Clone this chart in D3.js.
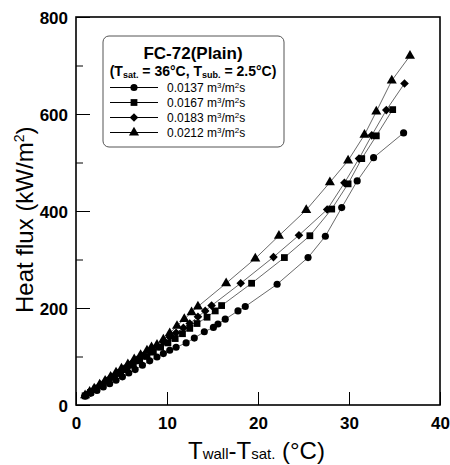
<!DOCTYPE html>
<html>
<head>
<meta charset="utf-8">
<script src="https://cdn.jsdelivr.net/npm/d3@7"></script>
<style>
  body { margin: 0; background: #fff; }
  svg { display: block; font-family: "Liberation Sans", Arial, sans-serif; }
</style>
</head>
<body>
<div id="chart"></div>
<script>
// series: wall superheat (x) and heat flux (y)
var labels = ["0.0137", "0.0167", "0.0183", "0.0212"];
var shapes = ["circle", "square", "diamond", "triangle"];

var x0137 = [1.0, 1.6, 2.3, 3.0, 3.7, 4.4, 5.1, 5.8, 6.5, 7.3, 8.1, 8.9, 9.6, 10.3, 11.0, 12.1, 13.0, 14.1, 15.1, 15.6, 16.4, 17.8, 18.6, 22.1, 25.5, 27.4, 29.2, 30.9, 32.7, 36.0];
var y0137 = [18, 24, 30, 37, 44, 51, 58, 66, 73, 82, 91, 99, 106, 113, 119, 128, 138, 151, 160, 167, 177, 194, 203, 249, 304, 348, 407, 462, 510, 561];

var x0167 = [1.0, 1.6, 2.2, 2.9, 3.5, 4.2, 4.9, 5.6, 6.3, 7.0, 7.8, 8.5, 9.3, 10.1, 10.9, 11.7, 12.5, 13.3, 14.4, 15.3, 16.0, 19.3, 22.9, 25.7, 28.1, 29.9, 31.4, 33.0, 34.8];
var y0167 = [19, 26, 33, 41, 49, 57, 65, 73, 82, 91, 100, 109, 119, 128, 137, 147, 158, 168, 181, 194, 205, 251, 304, 349, 404, 456, 508, 555, 609];

var x0183 = [1.0, 1.5, 2.1, 2.7, 3.3, 3.9, 4.6, 5.3, 6.0, 6.7, 7.4, 8.1, 8.9, 9.6, 10.3, 11.0, 11.8, 12.5, 13.4, 14.2, 14.9, 18.1, 21.7, 24.5, 27.6, 29.5, 31.1, 32.5, 34.1, 36.1];
var y0183 = [20, 27, 34, 42, 50, 58, 66, 75, 84, 93, 102, 111, 121, 130, 140, 149, 159, 168, 182, 194, 205, 251, 305, 350, 403, 458, 508, 556, 608, 663];

var x0212 = [1.0, 1.5, 2.0, 2.6, 3.2, 3.8, 4.4, 5.0, 5.7, 6.4, 7.1, 7.8, 8.3, 8.9, 9.6, 10.3, 11.1, 11.9, 12.7, 13.4, 16.5, 19.7, 22.3, 25.3, 27.9, 29.9, 31.7, 33.0, 34.7, 36.7];
var y0212 = [20, 27, 34, 42, 50, 58, 67, 75, 84, 94, 103, 112, 119, 124, 135, 148, 163, 177, 191, 203, 251, 302, 349, 402, 459, 504, 557, 605, 669, 720];

var xTicks = [0, 10, 20, 30, 40];
var yTicks = [0, 200, 400, 600, 800];
var yMinor = [100, 300, 500, 700];

var series = [
  { label: labels[0], shape: shapes[0], xs: x0137, ys: y0137 },
  { label: labels[1], shape: shapes[1], xs: x0167, ys: y0167 },
  { label: labels[2], shape: shapes[2], xs: x0183, ys: y0183 },
  { label: labels[3], shape: shapes[3], xs: x0212, ys: y0212 }
];

const width = 450, height = 465;
const plotL = 76, plotR = 440, plotT = 17, plotB = 405;

const svg = d3.select("#chart").append("svg")
  .attr("width", width).attr("height", height);

const xScale = d3.scaleLinear().domain([0, 40]).range([plotL, plotR]);
const yScale = d3.scaleLinear().domain([0, 800]).range([plotB, plotT]);

function markerPath(shape) {
  if (shape == "circle") return d3.symbol().type(d3.symbolCircle).size(40)();
  if (shape == "square") return d3.symbol().type(d3.symbolSquare).size(46)();
  if (shape == "triangle") return d3.symbol().type(d3.symbolTriangle).size(44)();
  // wide diamond (square turned 45deg)
  var s = 4.3;
  return "M0," + (-s) + "L" + s + ",0L0," + s + "L" + (-s) + ",0Z";
}

// data lines
const line = d3.line().x((d) => xScale(d[0])).y((d) => yScale(d[1]));
series.forEach(function (s) {
  var pts = s.xs.map((v, i) => [v, s.ys[i]]);
  svg.append("path")
    .attr("d", line(pts))
    .attr("fill", "none")
    .attr("stroke", "#6a6a6a")
    .attr("stroke-width", 1);
});

// markers
series.forEach(function (s) {
  var pts = s.xs.map((v, i) => [v, s.ys[i]]);
  svg.append("g").selectAll("path")
    .data(pts)
    .enter()
    .append("path")
    .attr("d", markerPath(s.shape))
    .attr("transform", (d) => "translate(" + xScale(d[0]) + "," + yScale(d[1]) + ")")
    .attr("fill", "#000");
});

// axes with inward ticks
const xAxis = d3.axisBottom(xScale).tickValues(xTicks).tickSize(-13).tickPadding(0).tickFormat(d3.format("d"));
const yAxis = d3.axisLeft(yScale).tickValues(yTicks).tickSize(-14).tickPadding(0).tickFormat(d3.format("d"));
const yAxisMinor = d3.axisLeft(yScale).tickValues(yMinor).tickSize(-7).tickFormat("");

const gx = svg.append("g").attr("transform", "translate(0," + plotB + ")").call(xAxis);
const gy = svg.append("g").attr("transform", "translate(" + plotL + ",0)").call(yAxis);
const gym = svg.append("g").attr("transform", "translate(" + plotL + ",0)").call(yAxisMinor);
[gx, gy, gym].forEach(function (g) {
  g.select(".domain").remove();
  g.selectAll(".tick line").attr("stroke", "#000").attr("stroke-width", 1);
});
gx.selectAll(".tick text")
  .attr("y", 24).attr("dy", 0)
  .attr("font-size", 17).attr("font-weight", "bold").attr("fill", "#000");
gy.selectAll(".tick text")
  .attr("x", -8).attr("dy", "0.4em")
  .attr("font-size", 17).attr("font-weight", "bold").attr("fill", "#000");

// frame
svg.append("rect")
  .attr("x", plotL).attr("y", plotT)
  .attr("width", plotR - plotL).attr("height", plotB - plotT)
  .attr("fill", "none").attr("stroke", "#000").attr("stroke-width", 1.6);

// axis titles
const xt = svg.append("text")
  .attr("x", 188).attr("y", 459)
  .attr("font-size", 24).attr("fill", "#000");
xt.append("tspan").text("T");
xt.append("tspan").attr("font-size", 15).text("wall");
xt.append("tspan").text("-T");
xt.append("tspan").attr("font-size", 15).text("sat.");
xt.append("tspan").text(" (°C)");

const yt = svg.append("text")
  .attr("transform", "translate(33,313) rotate(-90)")
  .attr("font-size", 24).attr("fill", "#000");
yt.append("tspan").text("Heat flux (kW/m");
yt.append("tspan").attr("font-size", 14).attr("dy", -9).text("2");
yt.append("tspan").attr("dy", 9).text(")");

// legend
const lg = svg.append("g");
lg.append("rect")
  .attr("x", 103).attr("y", 36).attr("width", 181).attr("height", 111)
  .attr("rx", 6).attr("fill", "#fff").attr("stroke", "#555").attr("stroke-width", 1);
lg.append("text")
  .attr("x", 193).attr("y", 59).attr("text-anchor", "middle")
  .attr("font-size", 17).attr("font-weight", "bold").text("FC-72(Plain)");
const sub = lg.append("text")
  .attr("x", 193).attr("y", 76).attr("text-anchor", "middle")
  .attr("font-size", 14).attr("font-weight", "bold");
sub.append("tspan").text("(T");
sub.append("tspan").attr("font-size", 9).attr("dy", 2).text("sat.");
sub.append("tspan").attr("dy", -2).text(" = 36°C, T");
sub.append("tspan").attr("font-size", 9).attr("dy", 2).text("sub.");
sub.append("tspan").attr("dy", -2).text(" = 2.5°C)");

series.forEach(function (s, i) {
  var yy = 87.5 + i * 15;
  lg.append("line")
    .attr("x1", 110).attr("x2", 158).attr("y1", yy).attr("y2", yy)
    .attr("stroke", "#000").attr("stroke-width", 1);
  lg.append("path")
    .attr("d", markerPath(s.shape))
    .attr("transform", "translate(134," + yy + ")")
    .attr("fill", "#000");
  var t = lg.append("text")
    .attr("x", 167).attr("y", yy + 4.5)
    .attr("font-size", 12).attr("fill", "#000");
  t.append("tspan").text(s.label + " m");
  t.append("tspan").attr("font-size", 8).attr("dy", -4).text("3");
  t.append("tspan").attr("dy", 4).text("/m");
  t.append("tspan").attr("font-size", 8).attr("dy", -4).text("2");
  t.append("tspan").attr("dy", 4).text("s");
});
</script>
</body>
</html>
